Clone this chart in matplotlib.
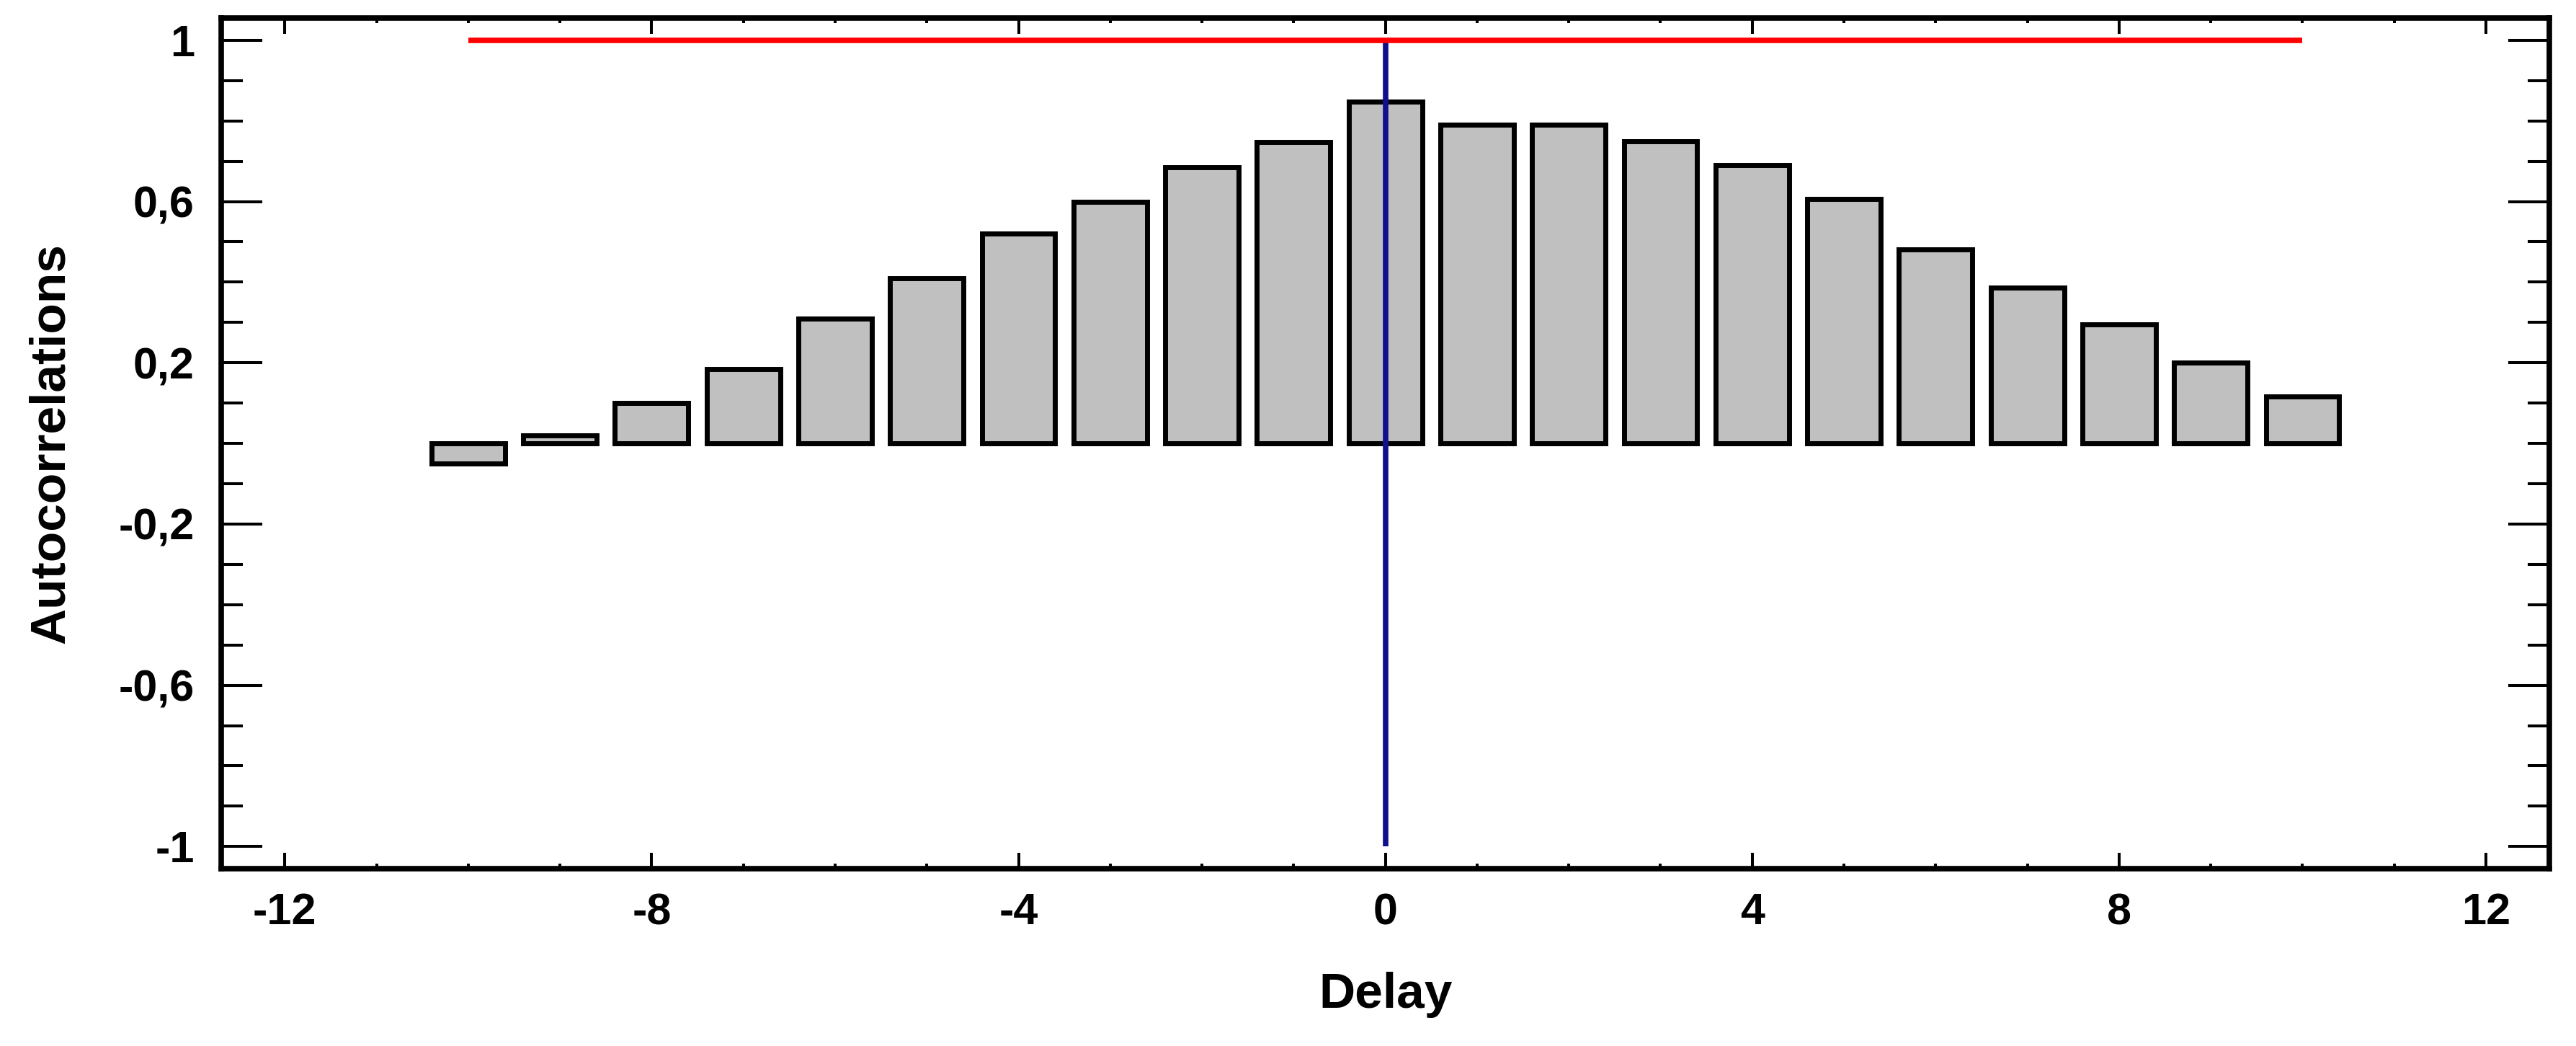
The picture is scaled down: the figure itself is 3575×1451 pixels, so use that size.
import matplotlib
matplotlib.use("Agg")
import matplotlib.pyplot as plt
from matplotlib.ticker import MultipleLocator, FuncFormatter

# autocorrelation by delay
delays = [-10, -9, -8, -7, -6, -5, -4, -3, -2, -1, 0, 1, 2, 3, 4, 5, 6, 7, 8, 9, 10]
autocorr = [-0.05, 0.02, 0.10, 0.185, 0.31, 0.41, 0.52, 0.60, 0.685, 0.747, 0.848,
            0.79, 0.79, 0.75, 0.69, 0.607, 0.482, 0.386, 0.296, 0.20, 0.117]

# reference lines
limit_x = [-10, 10]
limit_y = 1.0
center_x = 0
center_y = [-1, 1]

plt.rcParams['axes.unicode_minus'] = False

fig = plt.figure(figsize=(35.75, 14.51), dpi=100)
ax = fig.add_axes([0.0860, 0.1695, 0.9036, 0.8132])

ax.bar(delays, autocorr, width=0.8, color='#c0c0c0', edgecolor='black',
       linewidth=5, zorder=2)
ax.vlines(center_x, center_y[0], center_y[1], color='#10108c', linewidth=5.5, zorder=3)
ax.hlines(limit_y, limit_x[0], limit_x[1], color='#ff0000', linewidth=5.5, zorder=4)

ax.set_xlim(-12.69, 12.69)
ax.set_ylim(-1.055, 1.055)

ax.xaxis.set_major_locator(MultipleLocator(4))
ax.xaxis.set_minor_locator(MultipleLocator(1))
# major y ticks sit at -1, -0.6, -0.2, 0.2, 0.6, 1
ax.yaxis.set_major_locator(MultipleLocator(0.4, offset=0.2))
ax.yaxis.set_minor_locator(MultipleLocator(0.1))

fmt = FuncFormatter(lambda v, p: ('%g' % round(v, 2)).replace('.', ','))
ax.xaxis.set_major_formatter(fmt)
ax.yaxis.set_major_formatter(fmt)

for s in ax.spines.values():
    s.set_linewidth(5.5)

ax.tick_params(axis='both', which='both', direction='in', top=True, right=True,
               width=2.9, color='black')
ax.tick_params(axis='x', which='major', length=16, pad=24)
ax.tick_params(axis='x', which='minor', length=5)
ax.tick_params(axis='y', which='major', length=41, pad=27)
ax.tick_params(axis='y', which='minor', length=21.6)

tick_font = ['Liberation Sans Narrow', 'Liberation Sans', 'DejaVu Sans']
for lab in ax.get_xticklabels() + ax.get_yticklabels():
    lab.set_family(tick_font)
    lab.set_fontweight('bold')
    lab.set_fontsize(44)

ax.set_xlabel('Delay', fontsize=50, fontweight='bold',
              family=['Liberation Sans', 'DejaVu Sans'])
ax.set_ylabel('Autocorrelations', fontsize=50, fontweight='bold',
              family=['Liberation Sans', 'DejaVu Sans'])
ax.xaxis.set_label_coords(0.5, -0.1212)
ax.yaxis.set_label_coords(-0.0633, 0.5)

fig.savefig('out.png', dpi=100)
